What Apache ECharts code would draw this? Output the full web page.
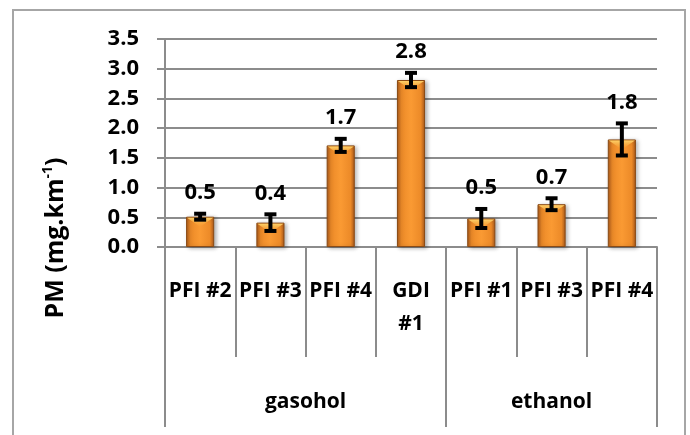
<!DOCTYPE html>
<html>
<head>
<meta charset="utf-8">
<script src="https://cdn.jsdelivr.net/npm/echarts@6/dist/echarts.min.js"></script>
<style>
  html, body { margin: 0; padding: 0; background: #fff; }
  #main { width: 690px; height: 435px; }
</style>
</head>
<body>
<div id="main"></div>
<script>
// engine types under the bars
var categories = ['PFI #2', 'PFI #3', 'PFI #4', 'GDI\n#1', 'PFI #1', 'PFI #3', 'PFI #4'];
// PM emission, mg/km
var pm = [0.51, 0.41, 1.71, 2.81, 0.48, 0.72, 1.81];
// +/- error
var pmErr = [0.05, 0.14, 0.11, 0.12, 0.16, 0.10, 0.27];
// fuel groups and how many bars each one covers
var groupNames = ['gasohol', 'ethanol'];
var groupSizes = [4, 3];
var yTicks = [0, 0.5, 1, 1.5, 2, 2.5, 3, 3.5];

var font = '"Open Sans", "Liberation Sans", sans-serif';
var lineCol = '#8c8c8c';

var groupEdges = [0];
var groupCenters = [];
for (var i = 0; i < groupSizes.length; i++) {
    groupCenters.push(groupEdges[i] + groupSizes[i] / 2);
    groupEdges.push(groupEdges[i] + groupSizes[i]);
}

var errData = [];
for (var i = 0; i < pm.length; i++) {
    errData.push([i, pm[i], pmErr[i]]);
}

function renderErr(params, api) {
    var idx = api.value(0);
    var v = api.value(1);
    var e = api.value(2);
    var hi = api.coord([idx, v + e]);
    var lo = api.coord([idx, v - e]);
    var top = api.coord([idx, v]);
    var bw = api.size([1, 0])[0] * 0.4;
    var cap = 6;
    var style = { stroke: '#000', lineWidth: 4 };
    return {
        type: 'group',
        children: [
            {
                type: 'polygon',
                shape: { points: [[top[0] - bw / 2 + 1, top[1] + 1], [top[0] + bw / 2 - 1, top[1] + 1], [top[0], top[1] + 10]] },
                style: {
                    fill: new echarts.graphic.LinearGradient(0, 0, 0, 1, [
                        { offset: 0, color: '#ffd36a' },
                        { offset: 1, color: 'rgba(250,160,50,0.2)' }
                    ])
                }
            },
            { type: 'line', shape: { x1: hi[0], y1: hi[1], x2: lo[0], y2: lo[1] }, style: style },
            { type: 'line', shape: { x1: hi[0] - cap, y1: hi[1], x2: hi[0] + cap, y2: hi[1] }, style: style },
            { type: 'line', shape: { x1: lo[0] - cap, y1: lo[1], x2: lo[0] + cap, y2: lo[1] }, style: style },
            {
                type: 'text',
                style: {
                    text: v.toFixed(1),
                    x: hi[0],
                    y: hi[1] - 21,
                    align: 'center',
                    verticalAlign: 'middle',
                    font: 'bold 22px ' + font,
                    fill: '#000'
                }
            }
        ]
    };
}

var myChart = echarts.init(document.getElementById('main'));
var option = {
    animation: false,
    grid: { left: 165, right: 33, top: 39, bottom: 188 },
    graphic: [
        {
            type: 'rect',
            shape: { x: 13, y: 10, width: 672, height: 440 },
            style: { fill: 'none', stroke: '#a6a6a6', lineWidth: 2 },
            silent: true
        },
        {
            type: 'text',
            x: 56,
            y: 238,
            rotation: Math.PI / 2,
            style: {
                text: '{a|PM (mg.km}{s|-1}{a|)}',
                align: 'center',
                verticalAlign: 'middle',
                rich: {
                    a: { font: 'bold 25px ' + font, fill: '#000', lineHeight: 30 },
                    s: { font: 'bold 14px ' + font, fill: '#000', verticalAlign: 'top', lineHeight: 30, padding: [0, 0, 12, 0] }
                }
            }
        }
    ],
    xAxis: [
        {
            type: 'category',
            data: categories,
            axisLine: { lineStyle: { color: lineCol, width: 2 } },
            axisTick: { show: true, interval: 0, length: 110, lineStyle: { color: lineCol, width: 2 } },
            axisLabel: {
                interval: 0,
                margin: 28,
                lineHeight: 33,
                fontFamily: font,
                fontWeight: 'bold',
                fontSize: 21,
                color: '#000'
            }
        },
        {
            type: 'value',
            position: 'bottom',
            min: 0,
            max: 7,
            axisLine: { show: false },
            splitLine: { show: false },
            axisTick: { show: true, customValues: groupEdges, length: 180, lineStyle: { color: lineCol, width: 2 } },
            axisLabel: {
                customValues: groupCenters,
                margin: 139,
                lineHeight: 33,
                fontFamily: font,
                fontWeight: 'bold',
                fontSize: 21,
                color: '#000',
                formatter: function (val) {
                    return groupNames[groupCenters.indexOf(val)];
                }
            }
        }
    ],
    yAxis: {
        type: 'value',
        min: 0,
        max: 3.5,
        interval: 0.5,
        axisLine: { show: true, lineStyle: { color: lineCol, width: 2 } },
        axisTick: { show: true, length: 8, lineStyle: { color: lineCol, width: 2 } },
        splitLine: { lineStyle: { color: lineCol, width: 2 } },
        axisLabel: {
            margin: 26,
            fontFamily: font,
            fontWeight: 'bold',
            fontSize: 22,
            color: '#000',
            formatter: function (v) { return v.toFixed(1); }
        }
    },
    series: [
        {
            type: 'bar',
            data: pm,
            barWidth: '40%',
            itemStyle: {
                color: new echarts.graphic.LinearGradient(0, 0, 1, 0, [
                    { offset: 0, color: '#a9581a' },
                    { offset: 0.15, color: '#ec8a28' },
                    { offset: 0.5, color: '#fa9a33' },
                    { offset: 0.85, color: '#ec8a28' },
                    { offset: 1, color: '#a9581a' }
                ]),
                borderColor: '#8a4a14',
                borderWidth: 1,
                shadowColor: 'rgba(0,0,0,0.3)',
                shadowBlur: 4,
                shadowOffsetX: 2,
                shadowOffsetY: 1
            }
        },
        {
            type: 'custom',
            data: errData,
            renderItem: renderErr,
            z: 5
        }
    ]
};
myChart.setOption(option);
</script>
</body>
</html>
